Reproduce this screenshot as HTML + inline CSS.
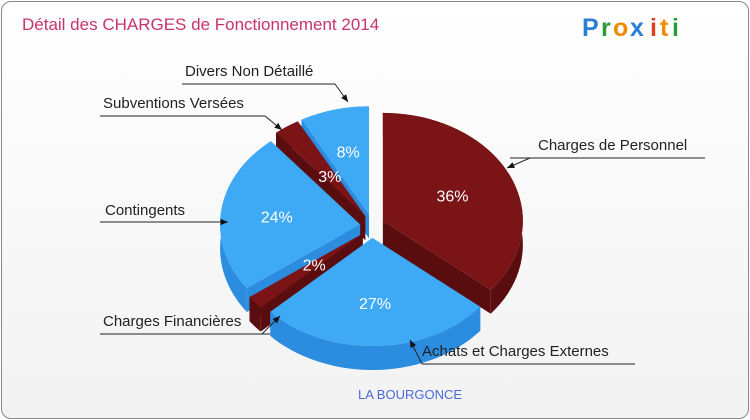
<!DOCTYPE html>
<html><head><meta charset="utf-8"><style>
body{margin:0;width:750px;height:420px;overflow:hidden;background:#fff;font-family:"Liberation Sans",sans-serif}
#frame{position:absolute;left:1px;top:1px;width:746px;height:416px;border:1px solid #888;border-radius:10px;background:linear-gradient(#fff,#f2f2f2)}
svg{position:absolute;left:0;top:0}
</style></head><body>
<div id="frame"></div>
<svg id="c" width="750" height="420">
<text x="22" y="30" font-size="17" fill="#c8336b">Détail des CHARGES de Fonctionnement 2014</text>
<g font-size="25" font-weight="bold" font-family="Liberation Sans, sans-serif">
<text x="582" y="36" fill="#2a7fd4">P</text><text x="601" y="36" fill="#2a9a3a">r</text><text x="613" y="36" fill="#f08a00">o</text><text x="630" y="36" fill="#2a7fd4">x</text><text x="650" y="36" fill="#e04020">i</text><text x="660" y="36" fill="#f08a00">t</text><text x="672" y="36" fill="#2a9a3a">i</text>
</g>
<text x="410" y="399" font-size="13" fill="#4a6ad8" text-anchor="middle">LA BOURGONCE</text>
<g id="pie"></g>
<g id="lab" font-size="15" fill="#222"></g>
</svg>
<script>
const labels=["Charges de Personnel","Achats et Charges Externes","Charges Financières","Contingents","Subventions Versées","Divers Non Détaillé"];
const values=[36,27,2,24,3,8];
const NS="http://www.w3.org/2000/svg";
const cx=372,cy=226,rx=140,ry=108,depth=24,expl=12;
const tops=["#7a1416","#3ea9f4"],sides=["#5a0d0f","#2b8ce0"];
const pie=document.getElementById('pie'),lab=document.getElementById('lab');
const total=values.reduce((a,b)=>a+b,0);
function P(a,f,ox,oy,dy){return [cx+ox+rx*f*Math.sin(a),cy+oy-ry*f*Math.cos(a)+(dy||0)];}
let acc=0;const sl=[];
values.forEach((v,i)=>{const a1=acc/total*2*Math.PI;acc+=v;const a2=acc/total*2*Math.PI;sl.push({i,a1,a2,m:(a1+a2)/2});});
const order=[...sl].sort((a,b)=>Math.cos(b.m)-Math.cos(a.m));
order.forEach(s=>{
 const ox=expl*Math.sin(s.m),oy=-expl*Math.cos(s.m),col=s.i%2;
 const g=document.createElementNS(NS,'g');
 
 
 const n=40,top=[],bot=[];
 for(let k=0;k<=n;k++){const a=s.a1+(s.a2-s.a1)*k/n;top.push(P(a,1,ox,oy));bot.push(P(a,1,ox,oy,depth));}
 const c0=[cx+ox,cy+oy],c1=[cx+ox,cy+oy+depth];
 const mk=(pts,fill)=>{const p=document.createElementNS(NS,'polygon');p.setAttribute('points',pts.map(q=>q.join(',')).join(' '));p.setAttribute('fill',fill);g.appendChild(p);return p;};
 mk([c0,top[0],bot[0],c1],sides[col]);
 mk([c0,top[n],bot[n],c1],sides[col]);
 mk(top.concat(bot.slice().reverse()),sides[col]);
 mk([c0].concat(top),tops[col]);
 pie.appendChild(g);
 const lp=P(s.m,s.i==0?0.55:(values[s.i]<5?0.45:0.6),ox,oy);
 const t=document.createElementNS(NS,'text');
 t.setAttribute('x',lp[0]);t.setAttribute('y',lp[1]+6);t.setAttribute('text-anchor','middle');
 t.setAttribute('font-size','16');t.setAttribute('fill','#fff');t.textContent=values[s.i]+'%';
 
 
 pie.appendChild(t);
});
const lpos=[[538,150,510,705,158,530,158,507,168],[422,356,422,635,364,422,364,410,340],[103,326,100,270,334,262,334,280,316],[105,215,100,215,222,212,222,228,222],[103,108,100,265,116,265,116,282,130],[185,76,182,335,84,335,84,348,102]];
labels.forEach((L,i)=>{const p=lpos[i];
 const t=document.createElementNS(NS,'text');t.setAttribute('x',p[0]);t.setAttribute('y',p[1]);t.textContent=L;
 
 
 lab.appendChild(t);
 const l=document.createElementNS(NS,'path');
 l.setAttribute('d',`M${p[2]},${p[4]}H${p[3]}M${p[5]},${p[6]}L${p[7]},${p[8]}`);
 l.setAttribute('stroke','#222');l.setAttribute('fill','none');
 
 
 lab.appendChild(l);
 const ang=Math.atan2(p[8]-p[6],p[7]-p[5]);
 const h=document.createElementNS(NS,'polygon');
 const a=[p[7],p[8]],b=[p[7]-8*Math.cos(ang-0.4),p[8]-8*Math.sin(ang-0.4)],c=[p[7]-8*Math.cos(ang+0.4),p[8]-8*Math.sin(ang+0.4)];
 h.setAttribute('points',[a,b,c].map(q=>q.join(',')).join(' '));h.setAttribute('fill','#111');
 
 
 lab.appendChild(h);
});
</script>
</body></html>
